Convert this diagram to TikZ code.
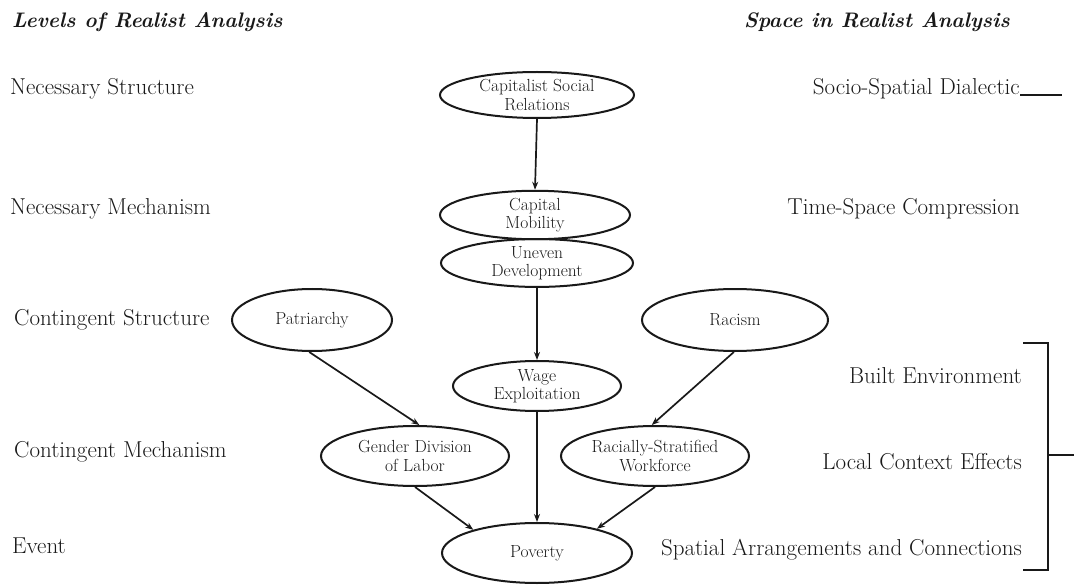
\documentclass[tikz,border=0pt]{standalone}
\usepackage{fontspec}
\setmainfont{Latin Modern Roman}
\usepackage{tikz}
\usetikzlibrary{shapes.geometric,arrows.meta}
\definecolor{ink}{RGB}{25,25,25}
\begin{document}
\begin{tikzpicture}[x=1pt,y=-1pt,
  every node/.style={text=ink},
  ell/.style={draw=ink,ellipse,line width=2pt,inner sep=0pt,align=center,
     font=\fontsize{17.5}{18.5}\selectfont},
  lbl/.style={font=\fontsize{23}{26}\selectfont,inner sep=0pt},
  ttl/.style={font=\fontsize{21}{24}\selectfont\bfseries\itshape,inner sep=0pt},
  arr/.style={draw=ink,line width=1.7pt,-{Stealth[length=8pt,width=6pt]}},
  brk/.style={draw=ink,line width=1.7pt}]
\useasboundingbox (0,0) rectangle (1074,588);
% titles
\node[ttl,anchor=base west] (t1) at (12,28) {Levels of Realist Analysis};
\node[ttl,anchor=base east] (t2) at (1010,28) {Space in Realist Analysis};
% left labels
\node[lbl,anchor=base west] (l1) at (10,95) {Necessary Structure};
\node[lbl,anchor=base west] (l2) at (10,215) {Necessary Mechanism};
\node[lbl,anchor=base west] (l3) at (14,325) {Contingent Structure};
\node[lbl,anchor=base west] (l4) at (14,457) {Contingent Mechanism};
\node[lbl,anchor=base west] (l5) at (12,553) {Event};
% right labels
\node[lbl,anchor=base east] (r1) at (1020,95) {Socio-Spatial Dialectic};
\node[lbl,anchor=base east] (r2) at (1020,215) {Time-Space Compression};
\node[lbl,anchor=base east] (r3) at (1022,383) {Built Environment};
\node[lbl,anchor=base east] (r4) at (1022,469) {Local Context Effects};
\node[lbl,anchor=base east] (r5) at (1022,555) {Spatial Arrangements and Connections};
% ellipses
\node[ell,minimum width=194pt,minimum height=46pt] (cap) at (537,95) {Capitalist Social\\Relations};
\node[ell,minimum width=190pt,minimum height=46pt] (mob) at (535,215) {Capital\\Mobility};
\node[ell,minimum width=192pt,minimum height=44pt] (une) at (537,263) {Uneven\\Development};
\node[ell,minimum width=160pt,minimum height=62pt] (pat) at (312,320) {Patriarchy};
\node[ell,minimum width=186pt,minimum height=62pt] (rac) at (735,320) {Racism};
\node[ell,minimum width=168pt,minimum height=50pt] (wag) at (537,386) {Wage\\Exploitation};
\node[ell,minimum width=188pt,minimum height=60pt] (gen) at (415,456) {Gender Division\\of Labor};
\node[ell,minimum width=188pt,minimum height=60pt] (rws) at (655,456) {Racially-Stratified\\Workforce};
\node[ell,minimum width=190pt,minimum height=60pt] (pov) at (537,553) {Poverty};
% arrows
\draw[arr] (cap.south) -- (mob.north);
\draw[arr] (une.south) -- (wag.north);
\draw[arr] (wag.south) -- (pov.north);
\draw[arr] (pat.-95) -- (gen.82);
\draw[arr] (rac.-92) -- (rws.96);
\draw[arr] (gen.south) -- (pov.160);
\draw[arr] (rws.south) -- (pov.22);
% bracket
\coordinate (d1) at (1062,95);
\draw[brk] (r1.base east) -- (d1);
\coordinate (b1) at (1023,343);
\coordinate (b2) at (1048,343);
\coordinate (b3) at (1048,570);
\coordinate (b4) at (1023,570);
\coordinate (b5) at (1048,455);
\coordinate (b6) at (1074,455);
\draw[brk] (b1) -- (b2) -- (b3) -- (b4);
\draw[brk] (b5) -- (b6);
\end{tikzpicture}
\end{document}
